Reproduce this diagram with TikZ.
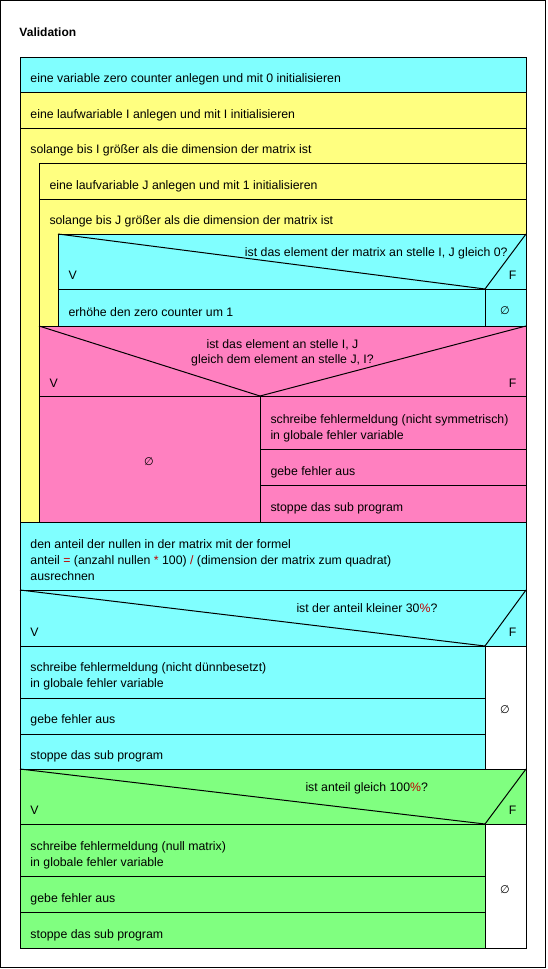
\documentclass[tikz,border=0pt]{standalone}
\usepackage{fontspec}
\setmainfont{Liberation Sans}
\newfontfamily\symfont{DejaVu Sans}
\definecolor{nsCyan}{HTML}{80FFFF}
\definecolor{nsYellow}{HTML}{FFFF80}
\definecolor{nsPink}{HTML}{FF80C0}
\definecolor{nsGreen}{HTML}{80FF80}
\definecolor{opred}{HTML}{C00000}
\newcommand{\op}[1]{{\color{opred}#1}}
\begin{document}
\begin{tikzpicture}[x=1pt,y=-1pt,line width=1pt,
  txt/.style={anchor=base west,inner sep=0pt,font=\fontsize{12.3}{14}\selectfont},
  txtr/.style={anchor=base east,inner sep=0pt,font=\fontsize{12.3}{14}\selectfont},
  txtc/.style={anchor=base,inner sep=0pt,font=\fontsize{12.3}{14}\selectfont},
  emptysym/.style={inner sep=0pt,font=\symfont\fontsize{11}{12}\selectfont}]
\useasboundingbox (0,0) rectangle (547,969);
\fill[white] (0,0) rectangle (547,969);
\draw (0.5,0.5) rectangle (545.5,967.5);
\node[txt,font=\bfseries\fontsize{12}{14}\selectfont] (title) at (19,36) {Validation};

% fills
\fill[nsCyan] (20,57) rectangle (526,92);
\fill[nsYellow] (20,92) rectangle (526,522);
\fill[nsCyan] (58,234) rectangle (526,326);
\fill[nsPink] (39,326) rectangle (526,522);
\fill[nsCyan] (20,522) rectangle (526,769);
\fill[white] (485,646) rectangle (526,769);
\fill[nsGreen] (20,769) rectangle (526,948);
\fill[white] (485,824) rectangle (526,948);

% frame and rows
\draw (20,57) rectangle (526,948);
\foreach \yy in {92,128,522,590,646,769,824} \draw (20,\yy) -- (526,\yy);
% loop I body
\draw (39,522) -- (39,163) -- (526,163);
\draw (39,199) -- (526,199);
% loop J body
\draw (58,326) -- (58,234) -- (526,234);
% if 1
\draw (58,234) -- (485,289) -- (526,234);
\draw (58,289) -- (526,289);
\draw (485,289) -- (485,326);
\draw (39,326) -- (526,326);
% pink if
\draw (39,326) -- (260,396) -- (526,326);
\draw (39,396) -- (526,396);
\draw (260,396) -- (260,522);
\draw (260,449) -- (526,449);
\draw (260,485) -- (526,485);
% if 2
\draw (20,590) -- (485,646) -- (526,590);
\draw (485,646) -- (485,769);
\draw (20,698) -- (485,698);
\draw (20,734) -- (485,734);
% if 3
\draw (20,769) -- (485,824) -- (526,769);
\draw (485,824) -- (485,948);
\draw (20,876) -- (485,876);
\draw (20,912) -- (485,912);

% texts
\node[txt] (t1) at (30,82) {eine variable zero counter anlegen und mit 0 initialisieren};
\node[txt] (t2) at (30,118) {eine laufwariable I anlegen und mit I initialisieren};
\node[txt] (t3) at (30,153) {solange bis I größer als die dimension der matrix ist};
\node[txt] (t4) at (49,189) {eine laufvariable J anlegen und mit 1 initialisieren};
\node[txt] (t5) at (49,224) {solange bis J größer als die dimension der matrix ist};
\node[txtr] (c1) at (508,256) {ist das element der matrix an stelle I, J gleich 0?};
\node[txt] (v1) at (68,279) {V};
\node[txtr] (f1) at (517,279) {F};
\node[txt] (t6) at (68,316) {erhöhe den zero counter um 1};
\node[emptysym] (e1) at (505,311) {∅};
\node[txtc] (c2a) at (282.5,348) {ist das element an stelle I, J};
\node[txtc] (c2b) at (282.5,363.5) {gleich dem element an stelle J, I?};
\node[txt] (v2) at (49,387) {V};
\node[txtr] (f2) at (517,387) {F};
\node[emptysym] (e2) at (149,462) {∅};
\node[txt] (t7a) at (270,423) {schreibe fehlermeldung (nicht symmetrisch)};
\node[txt] (t7b) at (270,439) {in globale fehler variable};
\node[txt] (t8) at (270,475) {gebe fehler aus};
\node[txt] (t9) at (270,511) {stoppe das sub program};
\node[txt] (t10a) at (30,548.5) {den anteil der nullen in der matrix mit der formel};
\node[txt] (t10b) at (30,564.5) {anteil \op{=} (anzahl nullen \op{*} 100) \op{/} (dimension der matrix zum quadrat)};
\node[txt] (t10c) at (30,580) {ausrechnen};
\node[txt] (c3) at (296,612.5) {ist der anteil kleiner 30\op{\%}?};
\node[txt] (v3) at (30,636) {V};
\node[txtr] (f3) at (517,636) {F};
\node[txt] (t11a) at (30,671) {schreibe fehlermeldung (nicht dünnbesetzt)};
\node[txt] (t11b) at (30,687) {in globale fehler variable};
\node[txt] (t12) at (30,723) {gebe fehler aus};
\node[txt] (t13) at (30,759) {stoppe das sub program};
\node[emptysym] (e3) at (505,710) {∅};
\node[txt] (c4) at (305,791) {ist anteil gleich 100\op{\%}?};
\node[txt] (v4) at (30,814) {V};
\node[txtr] (f4) at (517,814) {F};
\node[txt] (t14a) at (30,850.5) {schreibe fehlermeldung (null matrix)};
\node[txt] (t14b) at (30,866) {in globale fehler variable};
\node[txt] (t15) at (30,902) {gebe fehler aus};
\node[txt] (t16) at (30,938) {stoppe das sub program};
\node[emptysym] (e4) at (505,890) {∅};
\end{tikzpicture}
\end{document}
